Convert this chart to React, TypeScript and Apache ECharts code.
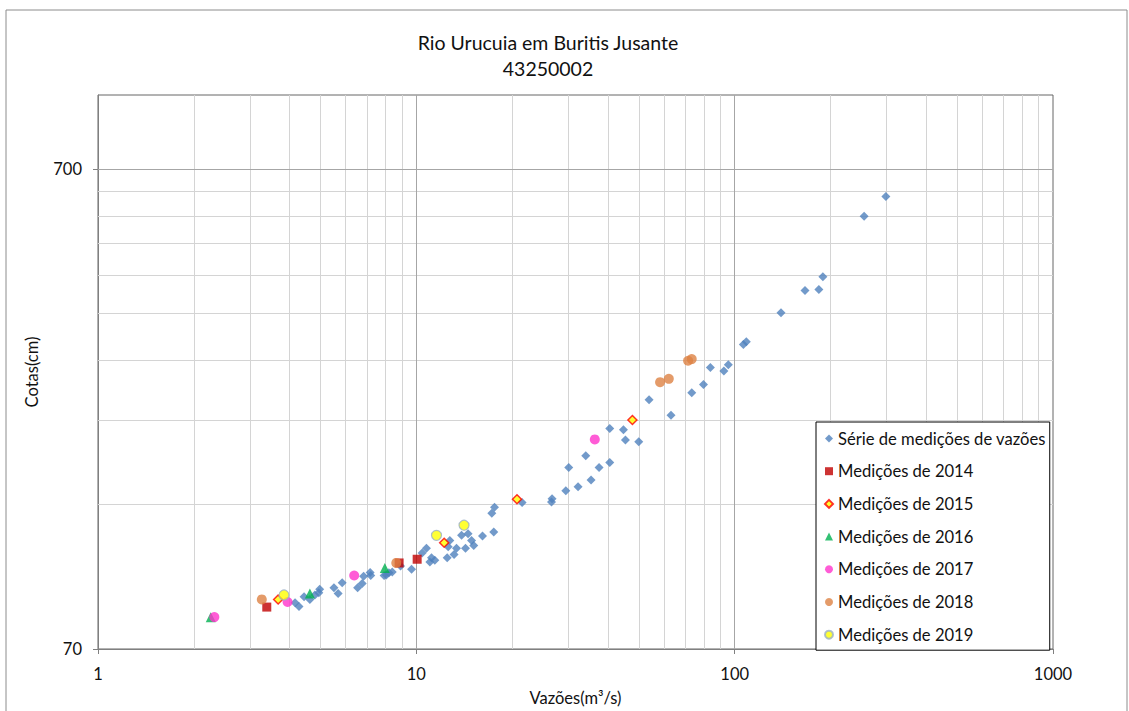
import React, { useEffect, useRef } from "react";
import * as echarts from "echarts";

// ---- Data (Vazão m³/s, Cota cm) ----
const serieQ = [4.16, 4.28, 4.44, 4.63, 4.8, 4.97, 4.94, 5.51, 5.68, 5.85, 6.54, 6.76, 6.83, 7.16, 7.19, 7.92, 8.2, 8.4, 8.05, 8.92, 9.66, 10.43, 10.76, 11.03, 11.16, 11.43, 12.5, 12.59, 12.74, 13.14, 13.37, 13.87, 14.27, 14.54, 14.91, 15.15, 16.14, 17.51, 17.26, 17.6, 21.49, 26.58, 26.69, 29.48, 30.12, 32.21, 35.39, 34.06, 37.5, 40.51, 40.51, 44.73, 45.39, 49.96, 53.83, 63.1, 73.3, 79.8, 83.9, 92.5, 95.5, 106.5, 108.8, 139.8, 166.3, 183.9, 189.3, 255.1, 298.6];
const serieH = [87.4, 85.8, 90.0, 88.8, 90.7, 93.3, 91.7, 93.9, 91.4, 96.2, 93.9, 95.9, 99.3, 101.0, 99.6, 99.6, 100.9, 101.3, 99.9, 104.3, 102.6, 111.0, 113.6, 106.3, 108.5, 107.2, 108.5, 114.3, 117.9, 110.2, 113.6, 120.8, 113.6, 121.7, 117.9, 115.1, 120.4, 122.7, 134.3, 138.3, 141.5, 141.7, 144.0, 149.6, 167.2, 152.5, 157.6, 177.1, 167.2, 171.3, 201.7, 200.5, 190.8, 189.4, 231.6, 215.1, 239.5, 249.2, 270.2, 266.0, 274.0, 302.0, 305.8, 351.5, 391.3, 393.2, 417.7, 558.7, 614.0];

const q2014 = [3.39, 8.83, 10.06];
const h2014 = [85.6, 105.8, 107.7];
const q2015 = [3.68, 12.23, 20.71, 47.73];
const h2015 = [88.8, 116.6, 143.6, 210.1];
const q2016 = [2.26, 4.63, 7.96];
const h2016 = [81.5, 91.4, 103.3];
const q2017 = [2.32, 3.94, 6.38, 36.36];
const h2017 = [81.6, 87.7, 99.6, 191.4];
const q2018 = [3.27, 8.65, 58.3, 62.1, 71.4, 73.3];
const h2018 = [88.8, 105.8, 252.0, 256.0, 279.3, 281.5];
const q2019 = [3.84, 11.57, 14.12];
const h2019 = [90.7, 120.8, 126.8];

const seriesNames = [
  "Série de medições de vazões",
  "Medições de 2014",
  "Medições de 2015",
  "Medições de 2016",
  "Medições de 2017",
  "Medições de 2018",
  "Medições de 2019",
];

const xTickValues = [1, 10, 100, 1000];
const yTickValues = [70, 700];
const xMajorGrid = [10, 100];
const xMinorGrid = [2, 3, 4, 5, 6, 7, 8, 9, 20, 30, 40, 50, 60, 70, 80, 90, 200, 300, 400, 500, 600, 700, 800, 900];
const yMajorGrid = [700];
const yMinorGrid = [140, 210, 280, 350, 420, 490, 560, 630];

const titleLine1 = "Rio Urucuia em Buritis Jusante";
const titleLine2 = "43250002";

const FONT = "Lato, 'Open Sans', sans-serif";

const zip = (a: number[], b: number[]) => a.map((v, i) => [v, b[i]]);

export default function App() {
  const ref = useRef<HTMLDivElement>(null);
  useEffect(() => {
    if (!ref.current) return;
    const chart = echarts.init(ref.current, undefined, { renderer: "svg" });

    const minorColor = "#d4d4d4";
    const majorColor = "#a6a6a6";
    const gridLines = [
      ...xMinorGrid.map((v) => ({ xAxis: v, lineStyle: { color: minorColor, width: 1, type: "solid" } })),
      ...yMinorGrid.map((v) => ({ yAxis: v, lineStyle: { color: minorColor, width: 1, type: "solid" } })),
      ...xMajorGrid.map((v) => ({ xAxis: v, lineStyle: { color: majorColor, width: 1, type: "solid" } })),
      ...yMajorGrid.map((v) => ({ yAxis: v, lineStyle: { color: majorColor, width: 1, type: "solid" } })),
    ];

    const option: any = {
      animation: false,
      backgroundColor: "#ffffff",
      textStyle: { fontFamily: FONT },
      grid: {
        left: 98,
        top: 95,
        right: 76,
        bottom: 60,
        show: true,
        borderColor: "#666666",
        borderWidth: 1,
        backgroundColor: "transparent",
      },
      graphic: [
        {
          type: "rect",
          shape: { x: 6, y: 10, width: 1121, height: 720 },
          style: { fill: "none", stroke: "#8c8c8c", lineWidth: 1 },
          silent: true,
          z: -10,
        },
        {
          type: "text",
          x: 548,
          y: 42,
          style: { text: titleLine1, align: "center", verticalAlign: "middle", font: `19.5px ${FONT}`, fill: "#111111" },
        },
        {
          type: "text",
          x: 548,
          y: 68,
          style: { text: titleLine2, align: "center", verticalAlign: "middle", font: `19.5px ${FONT}`, fill: "#111111" },
        },
      ],
      xAxis: {
        type: "log",
        logBase: 10,
        min: 1,
        max: 1000,
        name: "Vazões(m³/s)",
        nameLocation: "middle",
        nameGap: 40,
        nameTextStyle: { fontSize: 16.5, color: "#111111", fontFamily: FONT },
        axisLine: { show: true, lineStyle: { color: "#808080", width: 1 } },
        axisTick: { show: true, customValues: xTickValues, length: 5, lineStyle: { color: "#808080" } },
        axisLabel: {
          customValues: xTickValues,
          fontSize: 16.5,
          color: "#111111",
          margin: 16,
          fontFamily: FONT,
          formatter: (v: number) => String(Math.round(v)),
        },
        splitLine: { show: false },
        minorTick: { show: false },
      },
      yAxis: {
        type: "log",
        logBase: 10,
        min: 70,
        max: 1000,
        name: "Cotas(cm)",
        nameLocation: "middle",
        nameGap: 58,
        nameRotate: 90,
        nameTextStyle: { fontSize: 16.5, color: "#111111", fontFamily: FONT },
        axisLine: { show: true, lineStyle: { color: "#808080", width: 1 } },
        axisTick: { show: true, customValues: yTickValues, length: 5, lineStyle: { color: "#808080" } },
        axisLabel: {
          customValues: yTickValues,
          fontSize: 16.5,
          color: "#111111",
          margin: 16,
          fontFamily: FONT,
          formatter: (v: number) => String(Math.round(v)),
        },
        splitLine: { show: false },
      },
      legend: {
        orient: "vertical",
        left: 816,
        top: 422,
        z: 20,
        data: seriesNames,
        backgroundColor: "#ffffff",
        borderColor: "#000000",
        borderWidth: 1,
        padding: [8, 4, 7, 8],
        itemWidth: 8,
        itemHeight: 8,
        itemGap: 15.7,
        textStyle: { fontSize: 16.6, lineHeight: 16, color: "#111111", fontFamily: FONT },
      },
      series: [
        {
          name: "grid",
          type: "scatter",
          data: [],
          z: 1,
          silent: true,
          markLine: {
            silent: true,
            z: 1,
            symbol: ["none", "none"],
            label: { show: false },
            animation: false,
            data: gridLines,
          },
        },
        {
          name: seriesNames[0],
          type: "scatter",
          symbol: "diamond",
          symbolSize: 9,
          z: 3,
          itemStyle: { color: "#4f81bd" },
          data: zip(serieQ, serieH),
        },
        {
          name: seriesNames[1],
          type: "scatter",
          symbol: "rect",
          symbolSize: 9,
          z: 4,
          itemStyle: { color: "#c00000" },
          data: zip(q2014, h2014),
        },
        {
          name: seriesNames[2],
          type: "scatter",
          symbol: "diamond",
          symbolSize: 9,
          z: 4,
          itemStyle: { color: "#ffff00", borderColor: "#ff0000", borderWidth: 1.5 },
          data: zip(q2015, h2015),
        },
        {
          name: seriesNames[3],
          type: "scatter",
          symbol: "triangle",
          symbolSize: 10,
          z: 4,
          itemStyle: { color: "#00b050" },
          data: zip(q2016, h2016),
        },
        {
          name: seriesNames[4],
          type: "scatter",
          symbol: "circle",
          symbolSize: 10,
          z: 4,
          itemStyle: { color: "#ff33cc" },
          data: zip(q2017, h2017),
        },
        {
          name: seriesNames[5],
          type: "scatter",
          symbol: "circle",
          symbolSize: 10,
          z: 4,
          itemStyle: { color: "#dd8244" },
          data: zip(q2018, h2018),
        },
        {
          name: seriesNames[6],
          type: "scatter",
          symbol: "circle",
          symbolSize: 10,
          z: 4,
          itemStyle: { color: "#ffff00", borderColor: "#9bb0c8", borderWidth: 1.2 },
          data: zip(q2019, h2019),
        },
      ],
    };
    chart.setOption(option);
    return () => chart.dispose();
  }, []);
  return (
    <div
      ref={ref}
      style={{ position: "fixed", left: 0, top: 0, width: 1129, height: 711, background: "#fff" }}
    />
  );
}
